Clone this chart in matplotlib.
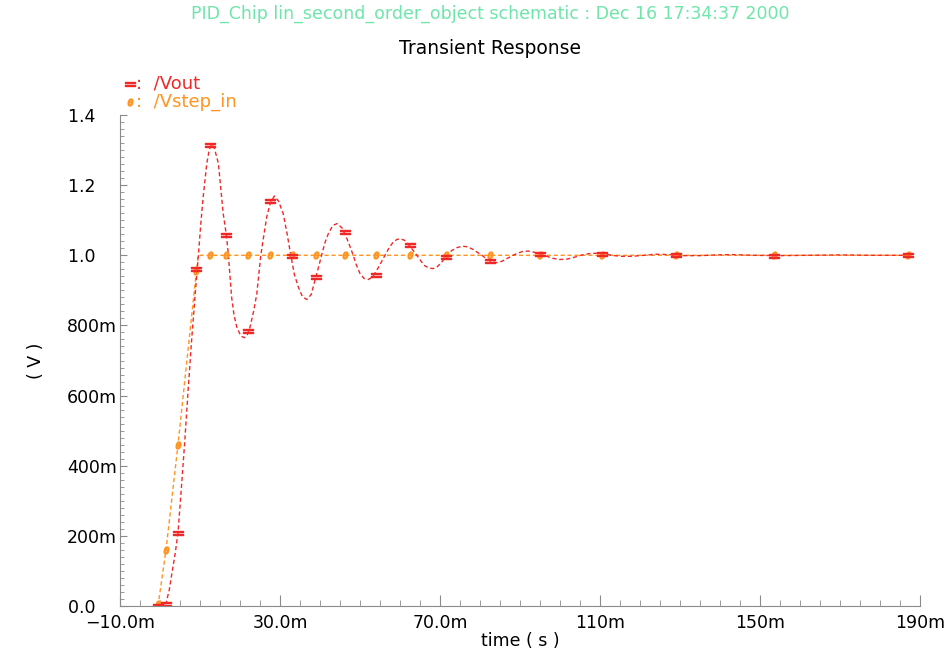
import matplotlib
matplotlib.use('Agg')
from matplotlib import pyplot as plt
from matplotlib.lines import Line2D
from matplotlib.ticker import MultipleLocator, FuncFormatter

# 时间 (ms) / 电压 (V)
t_vout = [-0.5, 0.5, 1.5, 2.3, 3.0, 3.8, 4.5, 5.3, 6.2, 7.0, 7.9, 8.8, 9.6, 10.2,
          10.8, 11.7, 12.3, 12.9, 13.6, 14.6, 15.8, 16.6, 17.1, 17.9, 18.5, 19.2,
          20.2, 21.1, 21.8, 22.5, 23.4, 24.2, 25.2, 26.0, 26.7, 27.6, 28.6, 29.6,
          30.8, 31.8, 32.7, 33.6, 34.6, 35.6, 36.7, 37.8, 38.75, 39.6, 40.4, 41.2,
          42.1, 43.2, 44.3, 45.5, 46.7, 47.5, 48.3, 49.1, 50.0, 51.0, 52.1, 53.1,
          54.2, 55.2, 56.25, 57.3, 58.2, 59.2, 60.1, 61.1, 62.2, 63.2, 64.2, 65.2,
          66.2, 67.2, 68.2, 69.2, 70.4, 71.7, 73.0, 74.3, 75.6, 76.9, 78.2, 79.4,
          80.6, 81.8, 83.0, 84.2, 85.5, 86.8, 88.1, 89.4, 90.7, 92.0, 93.5, 95.0,
          96.7, 98.3, 100.0, 101.7, 103.5, 105.5, 107.5, 109.5, 111.5, 113.5, 115.5,
          118.0, 121.0, 124.0, 127.0, 131.0, 135.0, 139.0, 143.0, 148.0, 155.0,
          162.0, 170.0, 178.0, 187.1]
vout = [0.000, 0.002, 0.008, 0.045, 0.095, 0.150, 0.209, 0.330, 0.471, 0.610, 0.757,
        0.890, 1.000, 1.090, 1.167, 1.262, 1.300, 1.317, 1.305, 1.262, 1.119, 1.057,
        1.000, 0.881, 0.830, 0.795, 0.770, 0.765, 0.773, 0.795, 0.840, 0.890, 1.000,
        1.060, 1.110, 1.150, 1.169, 1.155, 1.119, 1.060, 1.000, 0.945, 0.909, 0.882,
        0.874, 0.888, 0.929, 0.965, 1.000, 1.035, 1.062, 1.085, 1.0905, 1.078, 1.048,
        1.025, 1.000, 0.972, 0.948, 0.934, 0.931, 0.938, 0.957, 0.978, 1.000, 1.022,
        1.036, 1.045, 1.047, 1.043, 1.030, 1.015, 1.000, 0.984, 0.970, 0.964, 0.962,
        0.966, 0.980, 1.000, 1.014, 1.022, 1.026, 1.024, 1.017, 1.008, 0.999, 0.988,
        0.981, 0.979, 0.983, 0.991, 0.999, 1.006, 1.011, 1.012, 1.009, 1.003, 0.997,
        0.991, 0.988, 0.989, 0.994, 1.001, 1.005, 1.006, 1.003, 0.999, 0.997, 0.997,
        1.000, 1.003, 1.002, 0.999, 0.999, 1.001, 1.002, 1.000, 0.999, 1.000, 1.001,
        1.000, 1.000]

t_vstep = [-0.5, 1.5, 4.5, 9.1, 9.6, 187.1]
vstep = [0.000, 0.160, 0.460, 0.955, 1.000, 1.000]

# 标记点 (仿真输出点)
t_mark = [-0.5, 1.5, 4.5, 9.1, 12.6, 16.6, 21.9, 27.6, 32.9, 39.1, 46.25, 53.9,
          62.5, 71.6, 82.5, 95.1, 110.4, 129.1, 153.5, 187.1]
vout_mark = [0.000, 0.006, 0.209, 0.960, 1.314, 1.057, 0.783, 1.154, 0.997, 0.938,
             1.065, 0.943, 1.029, 0.996, 0.983, 1.005, 1.005, 1.001, 0.998, 1.000]
vstep_mark = [0.005, 0.160, 0.460, 0.955, 1.000, 1.000, 1.000, 1.000, 1.000, 1.000,
              1.000, 1.000, 1.000, 1.000, 1.000, 1.000, 1.000, 1.000, 1.000, 1.000]

x_ticks = [-10, 30, 70, 110, 150, 190]

RED = '#f02828'
ORANGE = '#ff9420'
GRAY = '#8a8a8a'
MK_RED = r'$=$'
MK_ORG = r'$\theta$'


def x_fmt(v, pos):
    s = f"{v:.1f}m" if abs(v) < 100 else f"{v:.0f}m"
    return s.replace('-', '\u2212')


def y_fmt(v, pos):
    if 0 < v < 0.99:
        return f"{v * 1000:.0f}m"
    return f"{v:.1f}" + "\u2007\u2007"   # 与 "m" 标签对齐方式一致


def 画图():
    plt.rcParams['font.family'] = ['DejaVu Sans']
    fig = plt.figure(figsize=(9.51, 6.55), dpi=100)
    ax = fig.add_axes([120 / 951, 1 - 606 / 655, 800 / 951, 491 / 655])

    ax.plot(t_vstep, vstep, color=ORANGE, lw=1, ls=(0, (3, 2)))
    ax.plot(t_vout, vout, color=RED, lw=1, ls=(0, (3, 2)))
    ax.plot(t_mark, vstep_mark, ls='none', marker=MK_ORG, ms=5, color=ORANGE)
    ax.plot(t_mark, vout_mark, ls='none', marker=MK_RED, ms=7, color=RED)

    ax.set_xlim(-10, 190)
    ax.set_ylim(0, 1.4)
    ax.set_xticks(x_ticks)
    ax.xaxis.set_minor_locator(MultipleLocator(5))
    ax.yaxis.set_major_locator(MultipleLocator(0.2))
    ax.yaxis.set_minor_locator(MultipleLocator(0.02))
    ax.xaxis.set_major_formatter(FuncFormatter(x_fmt))
    ax.yaxis.set_major_formatter(FuncFormatter(y_fmt))

    for s in ['top', 'right']:
        ax.spines[s].set_visible(False)
    for s in ['left', 'bottom']:
        ax.spines[s].set_color(GRAY)
    ax.tick_params(axis='x', which='major', direction='in', length=8, color=GRAY,
                   labelsize=12.5, pad=6)
    ax.tick_params(axis='x', which='minor', direction='in', length=4, color=GRAY)
    ax.tick_params(axis='y', which='major', direction='in', length=5, color=GRAY,
                   labelsize=12.5, pad=2)
    ax.tick_params(axis='y', which='minor', direction='in', length=3, color=GRAY)

    ax.set_xlabel('time ( s )', fontsize=12.5, labelpad=0)
    ax.set_ylabel('( V )', fontsize=12.5)
    ax.yaxis.set_label_coords(-0.094, 0.5)

    # 标题
    fig.text(490 / 951, 1 - 14 / 655, 'PID_Chip lin_second_order_object schematic : Dec 16 17:34:37 2000',
             ha='center', va='center', fontsize=12.5, color='#6ee6aa')
    fig.text(490 / 951, 1 - 48 / 655, 'Transient Response', ha='center', va='center',
             fontsize=13.5, color='black')

    # 图例
    fig.add_artist(Line2D([130 / 951], [1 - 84 / 655], marker=MK_RED, ms=7, color=RED,
                          transform=fig.transFigure))
    fig.text(136 / 951, 1 - 84 / 655, ':  /Vout', ha='left', va='center', fontsize=13,
             color=RED)
    fig.add_artist(Line2D([130 / 951], [1 - 102 / 655], marker=MK_ORG, ms=5,
                          color=ORANGE, transform=fig.transFigure))
    fig.text(136 / 951, 1 - 102 / 655, ':  /Vstep_in', ha='left', va='center',
             fontsize=13, color=ORANGE)

    fig.savefig('out.png', dpi=100)


if __name__ == '__main__':
    画图()
